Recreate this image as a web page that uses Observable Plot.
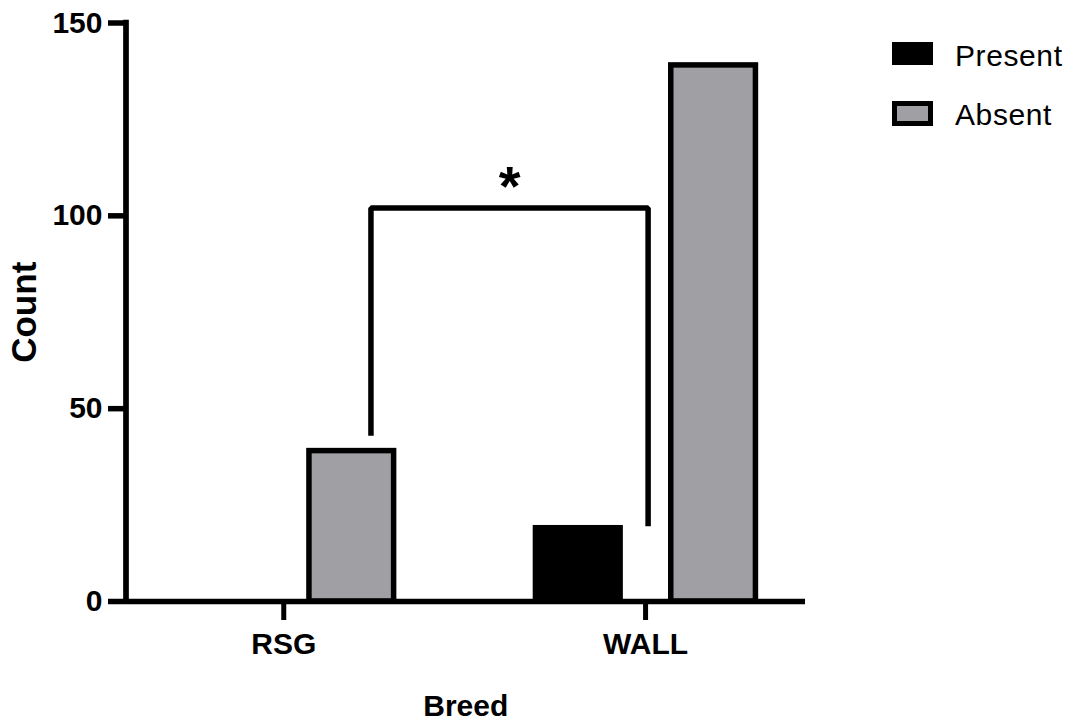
<!DOCTYPE html>
<html>
<head>
<meta charset="utf-8">
<script src="https://cdn.jsdelivr.net/npm/d3@7"></script>
<script src="https://cdn.jsdelivr.net/npm/@observablehq/plot@0.6"></script>
<style>
  html, body { margin: 0; padding: 0; background: #ffffff; }
  #wrap { position: relative; width: 1076px; height: 727px; font-family: "Liberation Sans", Arial, sans-serif; color: #000; }
  #chart { position: absolute; left: 0; top: 0; }
  .sw { position: absolute; box-sizing: border-box; }
  .lt { position: absolute; font-size: 30px; line-height: 30px; white-space: nowrap; color: #000; letter-spacing: 0.6px; }
</style>
</head>
<body>
<div id="wrap">
  <div id="chart"></div>
  <div id="legend"></div>
</div>
<script>
// ---- data ----
const breeds = ["RSG", "WALL"];
const statuses = ["Present", "Absent"];
const presentCounts = [0, 19];
const absentCounts = [39, 139];
const yTicks = [0, 50, 100, 150];
const statusColors = ["#000000", "#a09fa4"];
// significance bracket: left leg over RSG, right leg over WALL (y in count units)
const bracketFrom = "RSG";
const bracketTo = "WALL";
const bracketFromLevel = 43;
const bracketToLevel = 19.5;
const bracketTop = 102;
const bracketLabel = "*";

// ---- layout (group-relative offsets in category units) ----
const barOffset = { Present: -0.186, Absent: 0.188 };
const barHalf = 0.117;
const legFromOffset = 0.241;
const legToOffset = 0.007;
const xDomain = [-0.436, 1.442];

const rows = breeds.flatMap((b, i) => statuses.map((s, j) => ({
  breed: b, i, status: s, count: j === 0 ? presentCounts[i] : absentCounts[i]
})));

const fromI = breeds.indexOf(bracketFrom), toI = breeds.indexOf(bracketTo);
const bracket = [
  { x: fromI + legFromOffset, y: bracketFromLevel },
  { x: fromI + legFromOffset, y: bracketTop },
  { x: toI + legToOffset, y: bracketTop },
  { x: toI + legToOffset, y: bracketToLevel }
];
const starX = (bracket[1].x + bracket[2].x) / 2;

const chart = Plot.plot({
  width: 880,
  height: 727,
  marginLeft: 125.5,
  marginRight: 75,
  marginTop: 22.5,
  marginBottom: 126,
  style: { fontFamily: '"Liberation Sans", Arial, sans-serif', fontSize: "30px", fontWeight: "bold", color: "#000", background: "#fff", overflow: "visible" },
  x: { type: "linear", domain: xDomain, axis: null },
  y: { domain: [0, 150], axis: null },
  color: { domain: statuses, range: statusColors },
  marks: [
    Plot.rectY(rows.filter(d => d.count > 0), {
      x1: d => d.i + barOffset[d.status] - barHalf,
      x2: d => d.i + barOffset[d.status] + barHalf,
      y1: 0,
      y2: "count",
      fill: "status",
      stroke: "#000",
      strokeWidth: 5.5
    }),
    Plot.line(bracket, { x: "x", y: "y", stroke: "#000", strokeWidth: 5.5, strokeLinejoin: "miter", strokeLinecap: "butt" }),
    Plot.text([bracketLabel], { x: starX, y: bracketTop, text: d => d, fontSize: 56, fontWeight: "bold", lineAnchor: "bottom", dy: -3 }),
    Plot.ruleX([xDomain[0]], { stroke: "#000", strokeWidth: 5.7, insetTop: -2.75, insetBottom: -2.85 }),
    Plot.ruleY([0], { stroke: "#000", strokeWidth: 5.7 }),
    Plot.axisY({ ticks: yTicks, tickSize: 17.5, tickPadding: 6, strokeWidth: 5.5, fontSize: 30, fontWeight: "bold", label: null }),
    Plot.axisX({ ticks: breeds.map((b, i) => i), tickFormat: i => breeds[i], tickSize: 19, tickPadding: 12, strokeWidth: 5, fontSize: 30, fontWeight: "bold", label: null }),
    Plot.text(["Count"], { frameAnchor: "left", text: d => d, rotate: -90, textAnchor: "middle", lineAnchor: "middle", dx: -101.5, fontSize: 35, fontWeight: "bold" }),
    Plot.text(["Breed"], { frameAnchor: "bottom", text: d => d, textAnchor: "middle", dy: 114, fontSize: 30, fontWeight: "bold", lineAnchor: "bottom" })
  ]
});
document.getElementById("chart").appendChild(chart);

// ---- legend ----
const legend = document.getElementById("legend");
const legendTops = [40.5, 99.5];
statuses.forEach((s, k) => {
  const sw = document.createElement("div");
  sw.className = "sw";
  sw.style.left = "892px";
  sw.style.top = (k === 0 ? 42 : 101) + "px";
  sw.style.width = "41px";
  sw.style.height = (k === 0 ? 23 : 25) + "px";
  sw.style.background = statusColors[k];
  sw.style.border = "5.5px solid #000";
  legend.appendChild(sw);
  const t = document.createElement("div");
  t.className = "lt";
  t.style.left = "955px";
  t.style.top = legendTops[k] + "px";
  t.textContent = s;
  legend.appendChild(t);
});
</script>
</body>
</html>
